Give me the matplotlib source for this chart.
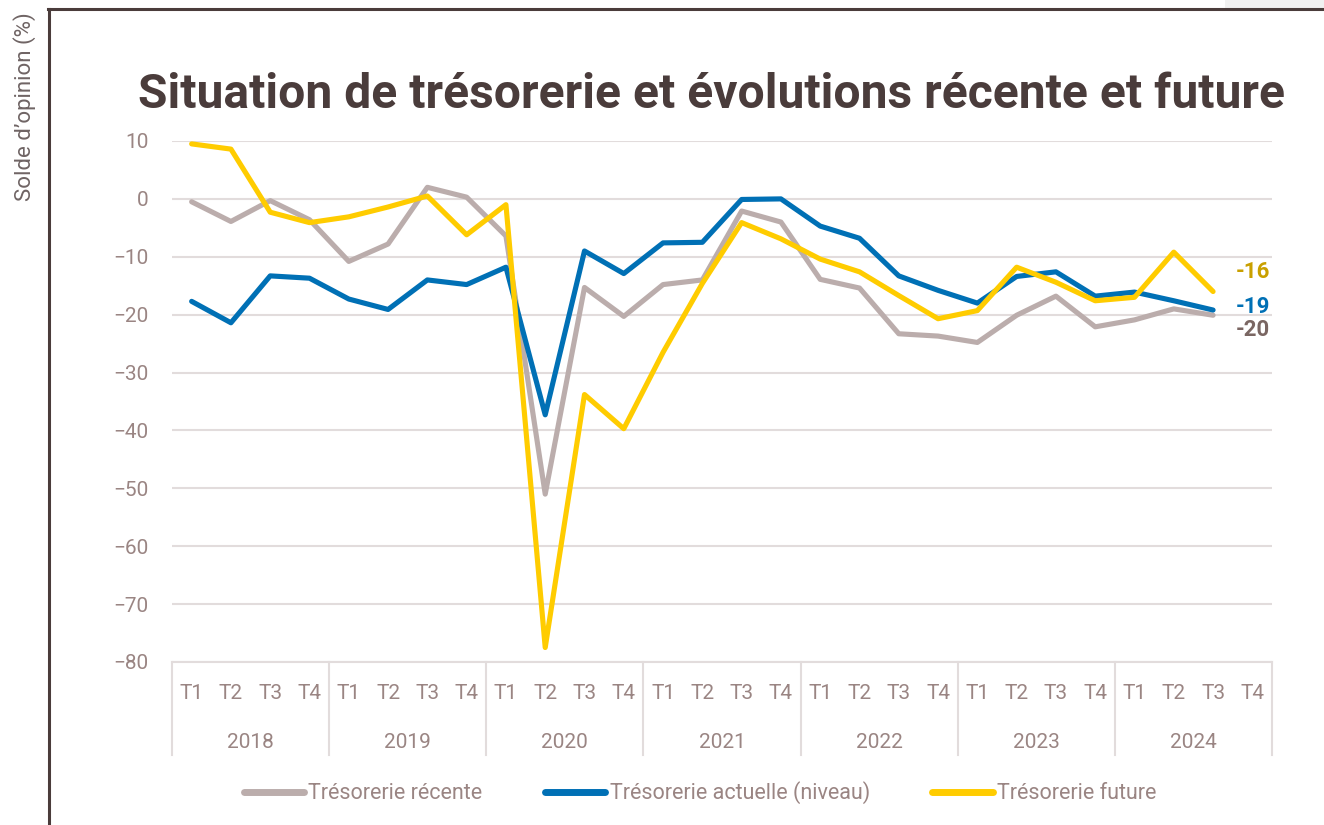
import matplotlib
matplotlib.use("Agg")
import matplotlib.pyplot as plt
from matplotlib.lines import Line2D
from matplotlib.patches import Rectangle
import matplotlib.transforms as mtransforms

years = ["2018", "2019", "2020", "2021", "2022", "2023", "2024"]
quarters = ["T1", "T2", "T3", "T4"]

recente = [-0.5, -3.9, -0.3, -3.6, -10.8, -7.8, 2.0, 0.3, -6.4,
           -51.0, -15.3, -20.3, -14.8, -14.0, -2.1, -4.0, -13.9, -15.4,
           -23.3, -23.7, -24.8, -20.1, -16.8, -22.1, -20.9, -19.0, -20.1]
actuelle = [-17.7, -21.4, -13.3, -13.7, -17.3, -19.1, -14.0, -14.8, -11.8,
            -37.3, -9.0, -12.9, -7.6, -7.5, -0.1, 0.0, -4.7, -6.8,
            -13.3, -15.8, -18.0, -13.4, -12.6, -16.8, -16.1, -17.6, -19.2]
future = [9.5, 8.6, -2.3, -4.1, -3.1, -1.4, 0.5, -6.2, -1.0,
          -77.5, -33.8, -39.7, -26.5, -14.6, -4.1, -6.9, -10.4, -12.6,
          -16.7, -20.7, -19.3, -11.8, -14.4, -17.6, -17.0, -9.2, -16.0]

series = [
    ("Trésorerie récente", recente, "#BBADAC", "#7A6662"),
    ("Trésorerie actuelle (niveau)", actuelle, "#0070B5", "#0070B5"),
    ("Trésorerie future", future, "#FFCC00", "#C9A000"),
]

FONT = ["Roboto", "DejaVu Sans"]
TXT = "#9A8583"
plt.rcParams["font.family"] = FONT

W, H = 1324, 825
fig = plt.figure(figsize=(W / 100, H / 100), dpi=100)

def fx(px):
    return px / W

def fy(py):
    return 1 - py / H

# frame decorations
fig.add_artist(Rectangle((fx(1225), fy(9)), fx(W) - fx(1225), 9 / H,
                         transform=fig.transFigure, color="#F1F1F1", lw=0))
fig.add_artist(Line2D([fx(48), 1.0], [fy(9), fy(9)], transform=fig.transFigure,
                      color="#4A3C3B", lw=2.2))
fig.add_artist(Line2D([fx(49), fx(49)], [fy(9), 0], transform=fig.transFigure,
                      color="#4A3C3B", lw=2.2))

ax = fig.add_axes([fx(172), fy(662), fx(1272) - fx(172), (662 - 141) / H])
n = len(quarters) * len(years)
x = list(range(len(recente)))
for name, vals, col, lcol in series:
    ax.plot(x, vals, color=col, lw=3.7, solid_capstyle="round",
            solid_joinstyle="round", label=name, zorder=3)

ax.set_xlim(-0.5, n - 0.5)
ax.set_ylim(-80, 10)
ax.set_yticks(range(-80, 11, 10))
ax.yaxis.grid(True, color="#E2DCDC", lw=1.5)
ax.set_axisbelow(True)
for s in ["top", "right", "left"]:
    ax.spines[s].set_visible(False)
ax.spines["bottom"].set_color("#E2DCDC")
ax.spines["bottom"].set_linewidth(1.5)
ax.tick_params(axis="y", length=0, pad=17, labelsize=15, labelcolor=TXT)
ax.set_xticks(range(n))
ax.set_xticklabels(quarters * len(years))
ax.tick_params(axis="x", length=0, pad=16, labelsize=15, labelcolor=TXT)

trans = mtransforms.blended_transform_factory(ax.transData, ax.transAxes)
sep_bottom = -(755 - 662) / (662 - 141)
for k in range(len(years) + 1):
    xs = k * 4 - 0.5
    ax.plot([xs, xs], [0, sep_bottom], transform=trans, color="#E2DCDC",
            lw=1.5, clip_on=False)
for k, yr in enumerate(years):
    ax.text(k * 4 + 1.5, -(742 - 662) / (662 - 141), yr, transform=trans,
            ha="center", va="center", fontsize=15, color=TXT)

# end labels
offsets = {"Trésorerie récente": -10.5, "Trésorerie actuelle (niveau)": 2,
           "Trésorerie future": 14}
for name, vals, col, lcol in series:
    last = vals[-1]
    ax.annotate(f"-{abs(round(last))}" if last < 0 else f"{round(last)}",
                xy=(len(vals) - 1, last), xytext=(41, offsets[name]),
                textcoords="offset points", ha="right", va="center",
                fontsize=16, fontweight="bold", color=lcol,
                annotation_clip=False)

fig.text(fx(711), fy(95), "Situation de trésorerie et évolutions récente et future",
         ha="center", va="center", fontsize=34.6, fontweight="bold", color="#4A3C3B")
fig.text(fx(25), fy(107), "Solde d’opinion (%)", rotation=90, ha="center",
         va="center", fontsize=16, color="#6F6464")

handles = [Line2D([0], [0], color=c, lw=5, solid_capstyle="round")
           for _, _, c, _ in series]
fig.legend(handles, [s[0] for s in series], loc="center",
           bbox_to_anchor=(fx(700), fy(793)), ncol=3, frameon=False,
           fontsize=15.5, labelcolor=TXT, handlelength=2.8, handletextpad=0.2,
           columnspacing=2.9)

fig.savefig("out.png", dpi=100)
